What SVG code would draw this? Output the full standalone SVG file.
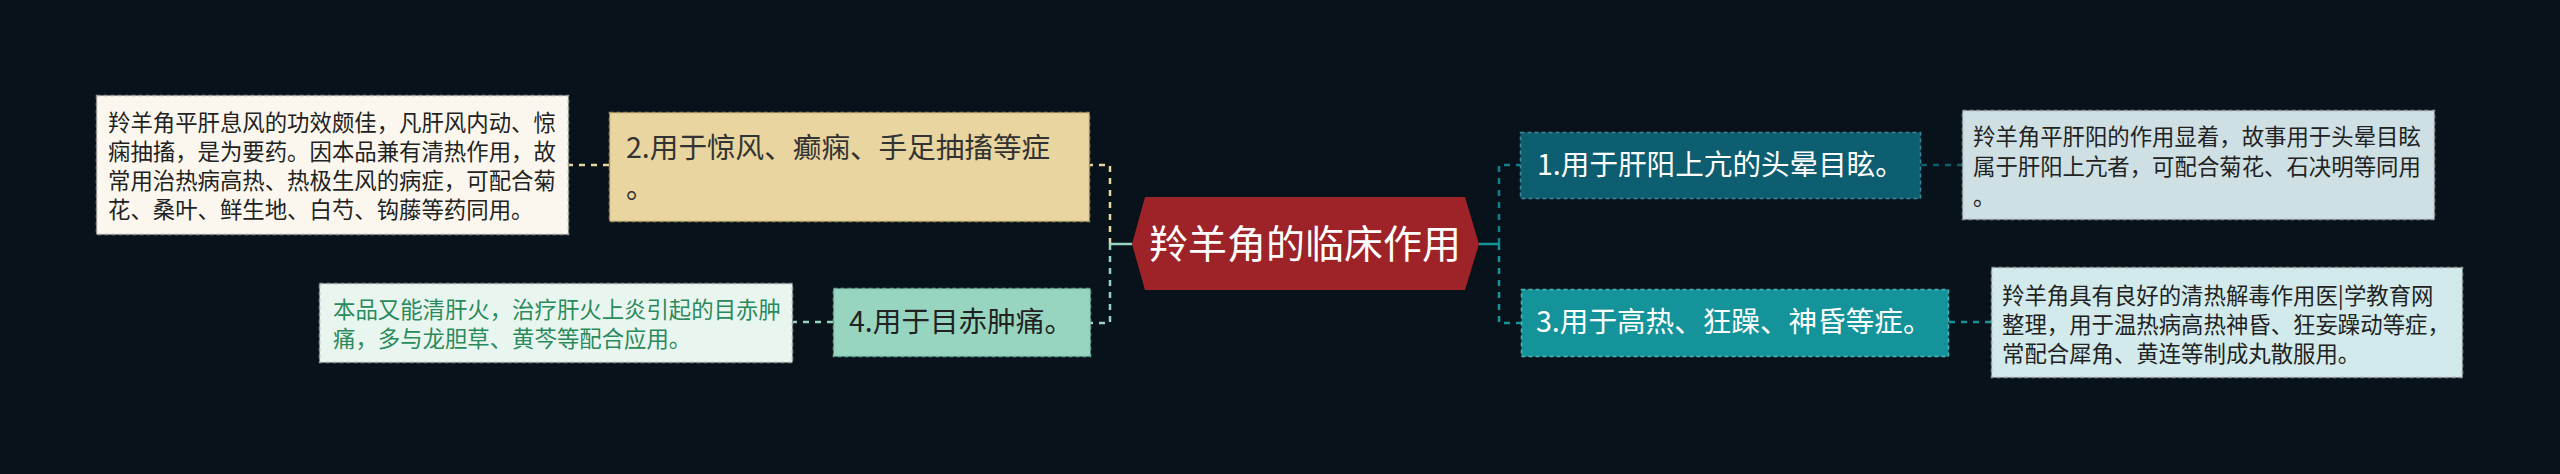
<svg xmlns="http://www.w3.org/2000/svg" width="2560" height="474" viewBox="0 0 2560 474">
<style>
text{font-family:"Noto Sans CJK SC","Noto Sans",sans-serif}
.t{font-size:28.6px}
.d{font-size:22.4px;fill:#222}
.c{fill:none;stroke-width:2.5;stroke-dasharray:6 6}
.box{stroke-width:1.5;stroke-dasharray:4 3}
</style>
<rect width="2560" height="474" fill="#08121a"/>
<g id="connectors">
<path class="c" d="M1110 244 V165 H1090" stroke="#e8d5a0"/>
<path class="c" d="M1110 244 V323 H1090" stroke="#98d5c0"/>
<path d="M1132 244 H1110" stroke="#98d5c0" stroke-width="2.5" fill="none"/>
<path class="c" d="M1499 244 V165 H1520" stroke="#137f8e"/>
<path class="c" d="M1499 244 V323 H1521" stroke="#14949a"/>
<path d="M1479 244 H1499" stroke="#14949a" stroke-width="2.5" fill="none"/>
<path class="c" d="M609 165 H569" stroke="#e8d5a0"/>
<path class="c" d="M833 322 H793" stroke="#98d5c0"/>
<path class="c" d="M1921 165 H1962" stroke="#0d5e70"/>
<path class="c" d="M1949 322 H1991" stroke="#14949a"/>
</g>
<g id="center">
<polygon points="1132,244 1145,197 1465,197 1479,244 1465,290 1145,290" fill="#9e2329"/>
<text x="1305" y="258" font-size="39" fill="#ffffff" text-anchor="middle">羚羊角的临床作用</text>
</g>
<g id="node2">
<rect class="box" x="609.5" y="112.5" width="480" height="109" fill="#e8d5a0" stroke="#a8925c"/>
<text class="t" x="626" y="158" fill="#333">2.用于惊风、癫痫、手足抽搐等症</text>
<text class="t" x="626" y="198" fill="#333">。</text>
</g>
<g id="node2desc">
<rect class="box" x="96.5" y="95.5" width="472" height="139" fill="#fbf7ee" stroke="#999"/>
<text class="d" x="108" y="131">羚羊角平肝息风的功效颇佳，凡肝风内动、惊</text>
<text class="d" x="108" y="160">痫抽搐，是为要药。因本品兼有清热作用，故</text>
<text class="d" x="108" y="189">常用治热病高热、热极生风的病症，可配合菊</text>
<text class="d" x="108" y="218">花、桑叶、鲜生地、白芍、钩藤等药同用。</text>
</g>
<g id="node4">
<rect class="box" x="833.5" y="288.5" width="257" height="68" fill="#98d5c0" stroke="#6aa892"/>
<text class="t" x="849" y="332" fill="#222">4.用于目赤肿痛。</text>
</g>
<g id="node4desc">
<rect class="box" x="319.5" y="283.5" width="473" height="79" fill="#e9f6f0" stroke="#999"/>
<text class="d" x="333" y="318" style="fill:#2a8a5c">本品又能清肝火，治疗肝火上炎引起的目赤肿</text>
<text class="d" x="333" y="347" style="fill:#2a8a5c">痛，多与龙胆草、黄芩等配合应用。</text>
</g>
<g id="node1">
<rect class="box" x="1520.5" y="132.5" width="400" height="66" fill="#0d5e70" stroke="#3a8a9c"/>
<text class="t" x="1537" y="175" fill="#ffffff">1.用于肝阳上亢的头晕目眩。</text>
</g>
<g id="node1desc">
<rect class="box" x="1962.5" y="110.5" width="472" height="109" fill="#cfe0e4" stroke="#999"/>
<text class="d" x="1973" y="145">羚羊角平肝阳的作用显着，故事用于头晕目眩</text>
<text class="d" x="1973" y="175">属于肝阳上亢者，可配合菊花、石决明等同用</text>
<text class="d" x="1973" y="205">。</text>
</g>
<g id="node3">
<rect class="box" x="1521.5" y="289.5" width="427" height="67" fill="#14949a" stroke="#4ab4b8"/>
<text class="t" x="1536" y="332" fill="#ffffff">3.用于高热、狂躁、神昏等症。</text>
</g>
<g id="node3desc">
<rect class="box" x="1991.5" y="267.5" width="471" height="110" fill="#d2eaeb" stroke="#999"/>
<text class="d" x="2002" y="304">羚羊角具有良好的清热解毒作用医|学教育网</text>
<text class="d" x="2002" y="333">整理，用于温热病高热神昏、狂妄躁动等症，</text>
<text class="d" x="2002" y="362">常配合犀角、黄连等制成丸散服用。</text>
</g>
</svg>
